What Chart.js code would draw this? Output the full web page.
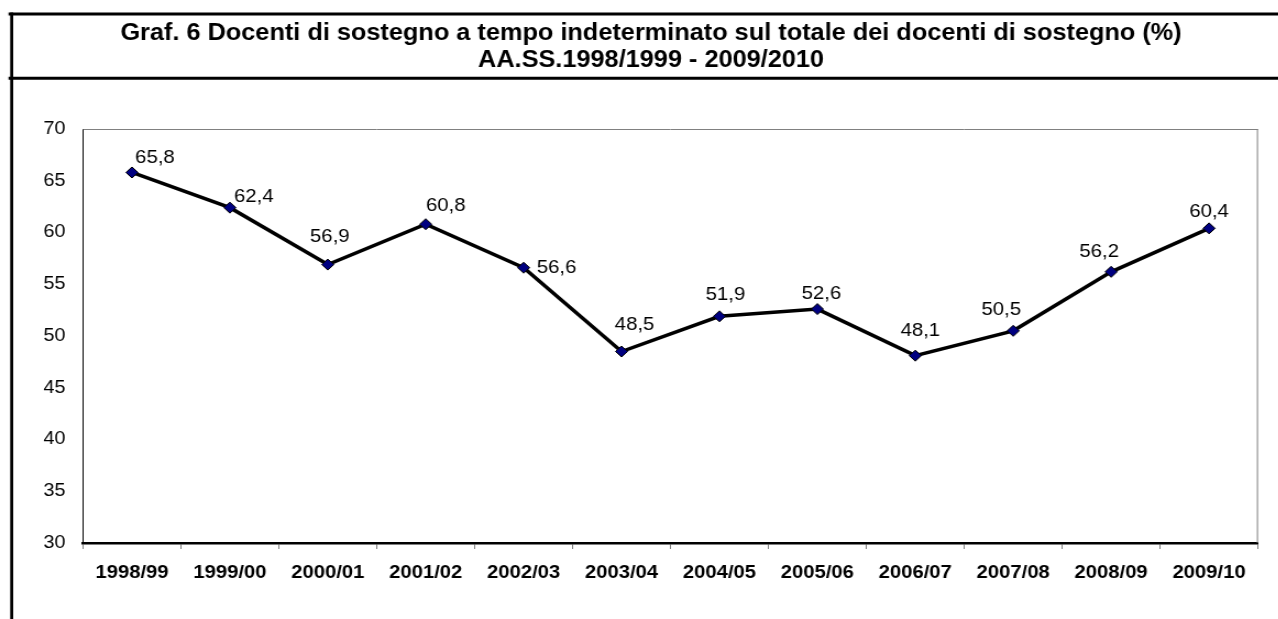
<!DOCTYPE html>
<html><head><meta charset="utf-8">
<script src="https://cdn.jsdelivr.net/npm/chart.js@4.4.1/dist/chart.umd.min.js"></script>
<style>
html,body{margin:0;padding:0;background:#fff;overflow:hidden;}
#wrap{width:1162px;height:619px;transform:scaleX(1.1);transform-origin:0 0;}
canvas{display:block;}
</style></head><body>
<div id="wrap"><canvas id="c" width="1162" height="619"></canvas></div>
<script>
// ---- data ----
const titleLines = [
  'Graf. 6 Docenti di sostegno a tempo indeterminato sul totale dei docenti di sostegno (%)',
  'AA.SS.1998/1999 - 2009/2010'
];
const categories = ['1998/99','1999/00','2000/01','2001/02','2002/03','2003/04','2004/05','2005/06','2006/07','2007/08','2008/09','2009/10'];
const values = [65.8, 62.4, 56.9, 60.8, 56.6, 48.5, 51.9, 52.6, 48.1, 50.5, 56.2, 60.4];
const yMin = 30, yMax = 70, yStep = 5;

// ---- presentation ----
const SX = 1.1;               // horizontal stretch of the original picture
const CW = 1162;
const FONT = '"Liberation Sans", Arial, sans-serif';
const labelOffsets = [[23,-16],[24,-12],[2,-29],[20,-20],[33,-1],[13,-28],[6,-23],[4,-17],[5,-26],[-12,-22],[-12,-21],[0,-18]];

const framePlugin = {
  id: 'frame',
  beforeDraw(chart) {
    const ctx = chart.ctx;
    ctx.save();
    ctx.fillStyle = '#fff';
    ctx.fillRect(0, 0, chart.width, chart.height);
    ctx.strokeStyle = '#000';
    ctx.lineWidth = 3;
    ctx.beginPath();
    ctx.moveTo(8.5 / SX, 14); ctx.lineTo(chart.width + 5, 14);
    ctx.moveTo(8.5 / SX, 78.3); ctx.lineTo(chart.width + 5, 78.3);
    ctx.stroke();
    ctx.lineWidth = 3 / SX;
    ctx.beginPath();
    ctx.moveTo(11.7 / SX, 12.5); ctx.lineTo(11.7 / SX, chart.height + 5);
    ctx.stroke();
    ctx.fillStyle = '#000';
    ctx.textAlign = 'center';
    ctx.textBaseline = 'alphabetic';
    ctx.font = 'bold 23px ' + FONT;
    ctx.fillText(titleLines[0], 651 / SX, 40);
    ctx.fillText(titleLines[1], 651 / SX, 67);
    ctx.restore();
  },
  beforeDatasetsDraw(chart) {
    const a = chart.chartArea, ctx = chart.ctx;
    ctx.save();
    ctx.strokeStyle = '#808080';
    ctx.lineWidth = 1;
    ctx.beginPath();
    ctx.moveTo(a.left, a.top + 0.5); ctx.lineTo(a.right, a.top + 0.5);
    ctx.moveTo(a.right - 0.5, a.top); ctx.lineTo(a.right - 0.5, a.bottom);
    ctx.stroke();
    ctx.restore();
  },
  afterDatasetsDraw(chart) {
    const ctx = chart.ctx;
    const meta = chart.getDatasetMeta(0);
    const fs = 18.5;
    ctx.save();
    ctx.fillStyle = '#000';
    ctx.font = fs + 'px ' + FONT;
    ctx.textAlign = 'center';
    ctx.textBaseline = 'alphabetic';
    meta.data.forEach((pt, i) => {
      const o = labelOffsets[i];
      const txt = values[i].toFixed(1).replace('.', ',');
      ctx.fillText(txt, pt.x + o[0] / SX, pt.y + o[1] + 0.358 * fs);
    });
    ctx.restore();
  }
};

new Chart(document.getElementById('c'), {
  type: 'line',
  data: {
    labels: categories,
    datasets: [{
      data: values,
      borderColor: '#000',
      borderWidth: 3.5,
      tension: 0,
      pointStyle: 'rectRot',
      pointRadius: 5.5,
      pointBackgroundColor: '#000080',
      pointBorderColor: '#000',
      pointBorderWidth: 1,
      clip: false
    }]
  },
  options: {
    responsive: false,
    animation: false,
    devicePixelRatio: 1,
    layout: { padding: { left: 0, top: 129, right: CW - 1258 / SX, bottom: 0 } },
    plugins: { legend: { display: false }, title: { display: false }, tooltip: { enabled: false } },
    scales: {
      x: {
        offset: true,
        grid: { display: true, offset: true, drawOnChartArea: false, drawTicks: true, tickLength: 6, color: '#808080', lineWidth: 1 },
        border: { display: true, color: '#000', width: 2.5 },
        ticks: { color: '#000', font: { family: FONT, size: 18.4, weight: 'bold' }, padding: 13, maxRotation: 0, autoSkip: false },
        afterFit(s) { s.height = 619 - 543; }
      },
      y: {
        min: yMin, max: yMax,
        grid: { display: false, drawTicks: false },
        border: { display: true, color: '#000', width: 1 },
        ticks: { stepSize: yStep, color: '#000', font: { family: FONT, size: 18 }, padding: 16 },
        afterFit(s) { s.width = 83 / SX; }
      }
    }
  },
  plugins: [framePlugin]
});
</script>
</body></html>
